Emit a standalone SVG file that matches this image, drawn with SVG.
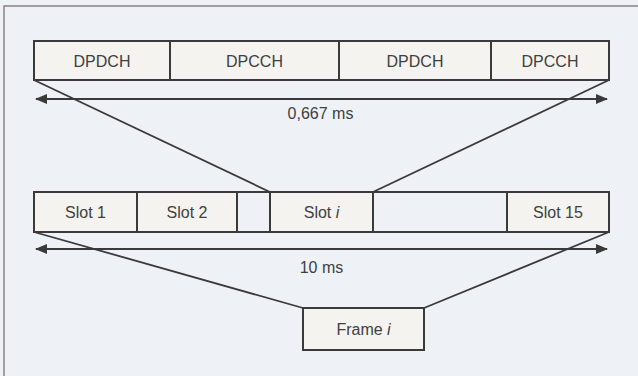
<svg xmlns="http://www.w3.org/2000/svg" width="638" height="376" viewBox="0 0 638 376">
<defs>
<style>
.box{fill:#f4f3ef;stroke:#3a3a3a;stroke-width:2}
.div{stroke:#3a3a3a;stroke-width:2}
.con{stroke:#3a3a3a;stroke-width:1.8;fill:none}
.arr{stroke:#3a3a3a;stroke-width:2;fill:none}
.t{font-family:"Liberation Sans",Arial,sans-serif;font-size:16px;fill:#404040;text-anchor:middle}
</style>
<marker id="ah" viewBox="0 0 12 10" refX="11" refY="5" markerWidth="12" markerHeight="10" markerUnits="userSpaceOnUse" orient="auto-start-reverse">
<path d="M0,0 L12,5 L0,10 Z" fill="#3a3a3a"/>
</marker>
</defs>
<rect x="0" y="0" width="638" height="376" fill="#eef2f7"/>
<path d="M4,376 V6 H638" fill="none" stroke="#8c8482" stroke-width="1.5"/>
<g id="connectors">
<line class="con" x1="34" y1="80" x2="270" y2="192"/>
<line class="con" x1="609" y1="80" x2="373" y2="192"/>
<line class="con" x1="34" y1="232" x2="303" y2="308"/>
<line class="con" x1="609" y1="232" x2="424" y2="308"/>
<line class="arr" x1="36" y1="99" x2="607" y2="99" marker-start="url(#ah)" marker-end="url(#ah)"/>
<line class="arr" x1="36" y1="249" x2="607" y2="249" marker-start="url(#ah)" marker-end="url(#ah)"/>
</g>
<g id="slot-row-top">
<rect class="box" x="34" y="41" width="575" height="39"/>
<line class="div" x1="170" y1="41" x2="170" y2="80"/>
<line class="div" x1="339" y1="41" x2="339" y2="80"/>
<line class="div" x1="491" y1="41" x2="491" y2="80"/>
</g>
<g id="dpdch1"><text class="t" x="102" y="66.5">DPDCH</text></g>
<g id="dpcch1"><text class="t" x="254.5" y="66.5">DPCCH</text></g>
<g id="dpdch2"><text class="t" x="415" y="66.5">DPDCH</text></g>
<g id="dpcch2"><text class="t" x="550" y="66.5">DPCCH</text></g>
<g id="label-0667"><text class="t" x="320.5" y="119">0,667 ms</text></g>
<g id="frame-row">
<rect class="box" x="34" y="192" width="575" height="40"/>
<rect x="237" y="193" width="33" height="38" fill="#eef2f7"/>
<rect x="373" y="193" width="134" height="38" fill="#eef2f7"/>
<line class="div" x1="137" y1="192" x2="137" y2="232"/>
<line class="div" x1="237" y1="192" x2="237" y2="232"/>
<line class="div" x1="270" y1="192" x2="270" y2="232"/>
<line class="div" x1="373" y1="192" x2="373" y2="232"/>
<line class="div" x1="507" y1="192" x2="507" y2="232"/>
</g>
<g id="slot1"><text class="t" x="85.5" y="217.5">Slot 1</text></g>
<g id="slot2"><text class="t" x="187" y="217.5">Slot 2</text></g>
<g id="sloti"><text class="t" x="321.5" y="217.5">Slot <tspan font-style="italic">i</tspan></text></g>
<g id="slot15"><text class="t" x="558" y="217.5">Slot 15</text></g>
<g id="label-10ms"><text class="t" x="321.5" y="272.5">10 ms</text></g>
<g id="frame">
<rect class="box" x="303" y="308" width="121" height="42"/>
<text class="t" x="363.5" y="334.5">Frame <tspan font-style="italic">i</tspan></text>
</g>
</svg>
